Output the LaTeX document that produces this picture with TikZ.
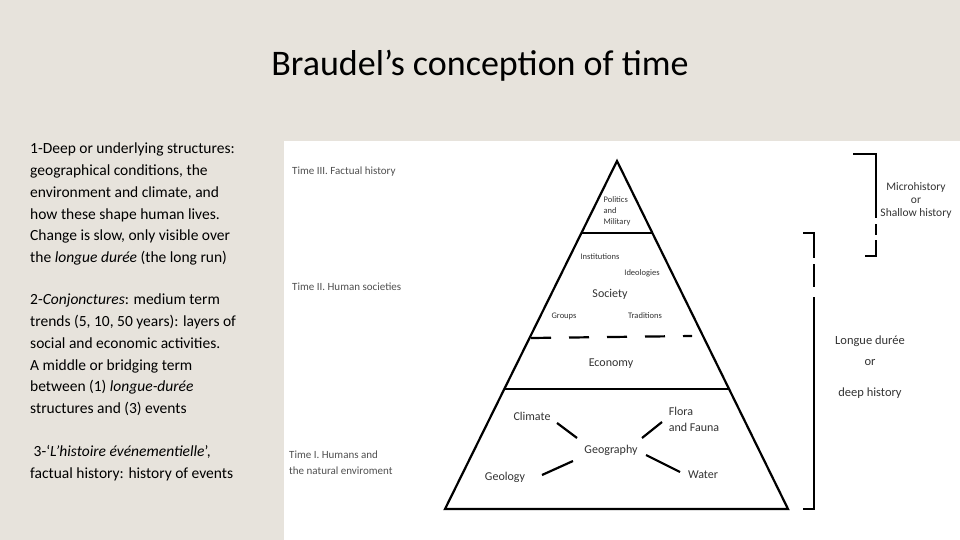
\documentclass[tikz,border=0pt]{standalone}
\usepackage{fontspec}
\setmainfont{Carlito}
\usetikzlibrary{calc}
\definecolor{bg}{HTML}{E7E3DC}
\definecolor{lab}{HTML}{505050}
\begin{document}
\begin{tikzpicture}[x=1pt,y=-1pt,
  para/.style={anchor=north west,align=left,inner sep=0pt,font=\fontsize{15.5}{21.7}\selectfont},
  tlab/.style={anchor=west,inner sep=0pt,text=lab,font=\fontsize{11}{16}\selectfont,align=left},
  pl/.style={inner sep=0pt,text=black!80,align=left},
  ln/.style={line width=2.2pt},
  spoke/.style={line width=2.2pt}]
\useasboundingbox (0,0) rectangle (960,540);
\fill[bg] (0,0) rectangle (960,540);
\fill[white] (284,141) rectangle (960,540);
\node[inner sep=0pt,font=\fontsize{36}{40}\selectfont] (title) at (480,66) {Braudel’s conception of time};
\node[para] (p1) at (30,143) {1-Deep or underlying structures:\\geographical conditions, the\\environment and climate, and\\how these shape human lives.\\Change is slow, only visible over\\the \textit{longue durée} (the long run)};
\node[para] (p2) at (30,294) {2-\textit{Conjonctures}: medium term\\trends (5, 10, 50 years): layers of\\social and economic activities.\\A middle or bridging term\\between (1) \textit{longue-durée}\\structures and (3) events};
\node[para] (p3) at (30,445) {\ 3-‘\textit{L’histoire événementielle}’,\\factual history: history of events};
\node[tlab] (t3) at (292,172) {Time III. Factual history};
\node[tlab] (t2) at (292,287) {Time II. Human societies};
\node[tlab,font=\fontsize{11}{16}\selectfont] (t1) at (289,463) {Time I. Humans and\\the natural enviroment};
% pyramid
\coordinate (apex) at (617,161);
\coordinate (bl) at (445,509);
\coordinate (br) at (788,509);
\draw[ln,line join=miter] (apex) -- (bl) -- (br) -- cycle;
\draw[ln] ($(apex)!{(233-161)/348}!(bl)$) -- ($(apex)!{(233-161)/348}!(br)$);
\draw[ln] ($(apex)!{(389-161)/348}!(bl)$) -- ($(apex)!{(389-161)/348}!(br)$);
\draw[ln,dash pattern=on 20pt off 18pt] (531,338) -- (692,336);
\node[pl,font=\fontsize{8.5}{11}\selectfont] (pol) at (617,211) {Politics\\and\\Military};
\node[pl,font=\fontsize{8.5}{10}\selectfont] (ins) at (600,257) {Institutions};
\node[pl,font=\fontsize{8.5}{10}\selectfont] (ide) at (642,273) {Ideologies};
\node[pl,font=\fontsize{12}{14}\selectfont] (soc) at (610,294) {Society};
\node[pl,font=\fontsize{8.5}{10}\selectfont] (gro) at (564,316) {Groups};
\node[pl,font=\fontsize{8.5}{10}\selectfont] (tra) at (645,316) {Traditions};
\node[pl,font=\fontsize{12}{14}\selectfont] (eco) at (611,364) {Economy};
\node[pl,font=\fontsize{12}{14}\selectfont] (cli) at (532,416) {Climate};
\node[pl,font=\fontsize{12}{16}\selectfont] (flo) at (694,419) {Flora\\and Fauna};
\node[pl,font=\fontsize{12}{14}\selectfont] (geo) at (611,450) {Geography};
\node[pl,font=\fontsize{12}{14}\selectfont] (gel) at (505,477) {Geology};
\node[pl,font=\fontsize{12}{14}\selectfont] (wat) at (703,475) {Water};
\draw[spoke] (557,423) -- (577,438);
\draw[spoke] (642,438) -- (662,422);
\draw[spoke] (542,475) -- (573,461);
\draw[spoke] (646,455) -- (680,472);
% brackets
\draw[ln] (853,154) -- (876,154) -- (876,218);
\draw[ln] (876,224) -- (876,235);
\draw[ln] (876,240) -- (876,256) -- (865,256);
\node[pl,align=center,font=\fontsize{11.5}{13}\selectfont] (mic) at (916,200) {Microhistory\\or\\Shallow history};
\draw[ln] (803,233) -- (814,233) -- (814,258);
\draw[ln] (814,264) -- (814,287);
\draw[ln] (814,297) -- (814,509) -- (803,509);
\node[pl,font=\fontsize{12.5}{14}\selectfont] (lon) at (870,341) {Longue durée};
\node[pl,font=\fontsize{12.5}{14}\selectfont] (or) at (870,363) {or};
\node[pl,font=\fontsize{12.5}{14}\selectfont] (dee) at (870,393) {deep history};
\end{tikzpicture}
\end{document}
